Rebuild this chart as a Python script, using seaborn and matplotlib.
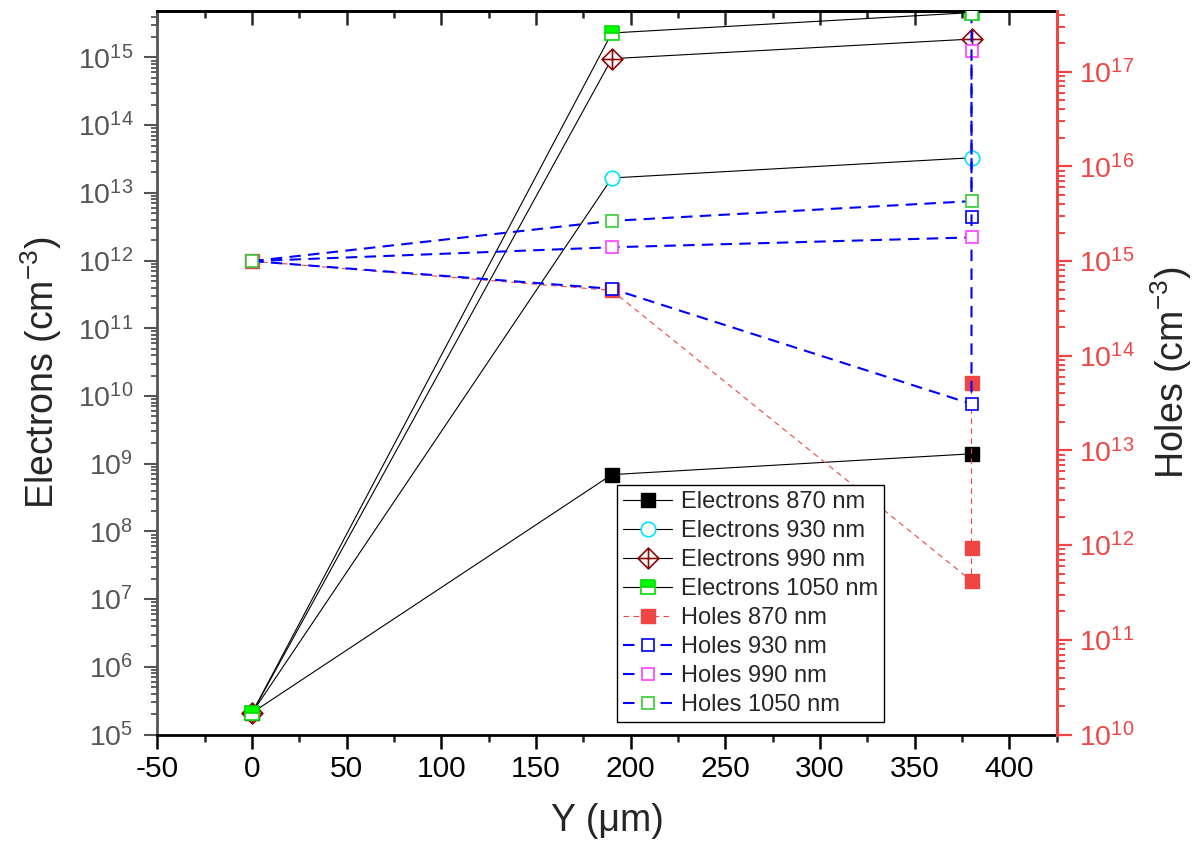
import numpy as np
import matplotlib
matplotlib.use("Agg")
import matplotlib.pyplot as plt
import seaborn as sns
from matplotlib.path import Path
from matplotlib.ticker import LogLocator, LogFormatterSciNotation, MultipleLocator, NullFormatter

# ---------------- data ----------------
y_e = [0, 190, 380]
e870 = [2.1e5, 6.9e8, 1.4e9]
e930 = [2.1e5, 1.66e13, 3.3e13]
e990 = [2.1e5, 9.6e14, 1.87e15]
e1050 = [2.1e5, 2.3e15, 4.6e15]

y_h870 = [0, 190, 380, 380, 380]
h870 = [1e15, 4.9e14, 4.2e11, 9.4e11, 5.2e13]
y_h = [0, 190, 380, 380]
h930 = [1e15, 5.1e14, 3.1e13, 2.9e15]
h990 = [1e15, 1.4e15, 1.78e15, 1.66e17]
h1050 = [1e15, 2.66e15, 4.3e15, 4.1e17]

labels_e = ["Electrons 870 nm", "Electrons 930 nm", "Electrons 990 nm", "Electrons 1050 nm"]
labels_h = ["Holes 870 nm", "Holes 930 nm", "Holes 990 nm", "Holes 1050 nm"]

# ---------------- style ----------------
sns.set_style("ticks")
plt.rcParams['font.family'] = ['Liberation Sans', 'DejaVu Sans']
plt.rcParams['mathtext.default'] = 'regular'
plt.rcParams['axes.unicode_minus'] = False

RED = '#f04545'
GRAY = '#555555'

fig = plt.figure(figsize=(11.94, 8.58), dpi=100)
ax = fig.add_axes([0.1319, 0.1439, 0.885 - 0.1319, 0.987 - 0.1439])
ax2 = ax.twinx()

# diamond with cross marker
dverts = [(0, 1), (1, 0), (0, -1), (-1, 0), (0, 1), (0, 1), (0, -1), (-1, 0), (1, 0)]
dcodes = [Path.MOVETO, Path.LINETO, Path.LINETO, Path.LINETO, Path.CLOSEPOLY,
          Path.MOVETO, Path.LINETO, Path.MOVETO, Path.LINETO]
diamond_cross = Path(dverts, dcodes)

common = dict(estimator=None, sort=False, legend=False)

# electrons (left axis)
sns.lineplot(x=y_e, y=e870, ax=ax, color='black', lw=0.8, marker='s', markersize=9.5,
             markerfacecolor='black', markeredgecolor='black', markeredgewidth=1, **common)
sns.lineplot(x=y_e, y=e930, ax=ax, color='black', lw=0.8, marker='o', markersize=10.5,
             markerfacecolor='white', markeredgecolor='#00e5ff', markeredgewidth=1.2, **common)
sns.lineplot(x=y_e, y=e990, ax=ax, color='black', lw=0.8, marker=diamond_cross, markersize=15,
             markerfacecolor='white', markeredgecolor='#8b0a0a', markeredgewidth=1.2, **common)
sns.lineplot(x=y_e, y=e1050, ax=ax, color='black', lw=0.8, marker='s', markersize=9.5,
             fillstyle='top', markerfacecolor='#00ff00', markerfacecoloralt='white',
             markeredgecolor='#00dd00', markeredgewidth=1.2, **common)

# holes (right axis)
sns.lineplot(x=y_h870, y=h870, ax=ax2, color=RED, lw=0.8, dashes=(5, 4), marker='s', markersize=9.5,
             markerfacecolor=RED, markeredgecolor=RED, markeredgewidth=1, **common)
sns.lineplot(x=y_h, y=h930, ax=ax2, color='#0000ff', lw=1.5, dashes=(5.5, 3.5), marker='s', markersize=9,
             markerfacecolor='white', markeredgecolor='#0000ff', markeredgewidth=1.2, **common)
sns.lineplot(x=y_h, y=h990, ax=ax2, color='#0000ff', lw=1.5, dashes=(5.5, 3.5), marker='s', markersize=9,
             markerfacecolor='white', markeredgecolor='#ff40ff', markeredgewidth=1.2, **common)
sns.lineplot(x=y_h, y=h1050, ax=ax2, color='#0000ff', lw=1.5, dashes=(5.5, 3.5), marker='s', markersize=9,
             markerfacecolor='white', markeredgecolor='#33cc33', markeredgewidth=1.2, **common)

# ---------------- axes ----------------
ax.set_yscale('log')
ax2.set_yscale('log')
ax.set_xlim(-50, 425)
ax.set_ylim(1e5, 10 ** 15.684)
ax2.set_ylim(1e10, 10 ** 17.64)

ax.xaxis.set_major_locator(MultipleLocator(50))
ax.xaxis.set_minor_locator(MultipleLocator(25))
for a in (ax, ax2):
    a.yaxis.set_major_locator(LogLocator(base=10, numticks=20))
    a.yaxis.set_minor_locator(LogLocator(base=10, subs=np.arange(2, 10), numticks=20))
    a.yaxis.set_minor_formatter(NullFormatter())
    a.yaxis.set_major_formatter(LogFormatterSciNotation())

# spines
for s in ('top', 'bottom'):
    ax.spines[s].set_color('black')
    ax.spines[s].set_linewidth(2)
ax.spines['left'].set_color(GRAY)
ax.spines['left'].set_linewidth(2)
ax.spines['right'].set_visible(False)
ax2.spines['right'].set_visible(True)
ax2.spines['right'].set_color(RED)
ax2.spines['right'].set_linewidth(2.2)
for s in ('top', 'bottom', 'left'):
    ax2.spines[s].set_visible(False)

# ticks
ax.xaxis.set_ticks_position('bottom')
ax.tick_params(axis='x', which='major', direction='out', length=10, width=1.8, labelsize=21.5,
               pad=5, colors='black')
ax.tick_params(axis='x', which='minor', direction='out', length=5, width=1.8)
axt = ax.secondary_xaxis('top')
axt.xaxis.set_major_locator(MultipleLocator(50))
axt.xaxis.set_minor_locator(MultipleLocator(25))
axt.tick_params(axis='x', which='major', direction='in', length=10, width=1.8, labeltop=False)
axt.tick_params(axis='x', which='minor', direction='in', length=5, width=1.8)
axt.spines['top'].set_linewidth(2)
axt.set_xticklabels([])

ax.tick_params(axis='y', which='major', direction='out', length=9.5, width=1.5, labelsize=20.5,
               pad=8, color=GRAY, labelcolor=GRAY)
ax.tick_params(axis='y', which='minor', direction='out', length=4.5, width=1.3, color=GRAY)
ax2.tick_params(axis='y', which='major', direction='out', length=11, width=1.6, labelsize=20.5,
                pad=5, color=RED, labelcolor=RED)
ax2.tick_params(axis='y', which='minor', direction='out', length=5.5, width=1.4, color=RED)

ax.set_xlabel('Y (μm)', fontsize=27, labelpad=14)
ax.set_ylabel('Electrons (cm$^{-3}$)', fontsize=27, labelpad=10)
ax2.set_ylabel('Holes (cm$^{-3}$)', fontsize=27, labelpad=10)

# ---------------- legend ----------------
handles = list(ax.get_lines()) + list(ax2.get_lines())
labels = labels_e + labels_h
leg = ax2.legend(handles, labels, loc='upper left', bbox_to_anchor=(0.511, 0.345),
                 borderaxespad=0, fontsize=17, frameon=True, fancybox=False, framealpha=1,
                 edgecolor='black', handlelength=2.1, handletextpad=0.35, labelspacing=0.3,
                 borderpad=0.25)
leg.get_frame().set_linewidth(1.0)

fig.savefig('out.png', dpi=100)
